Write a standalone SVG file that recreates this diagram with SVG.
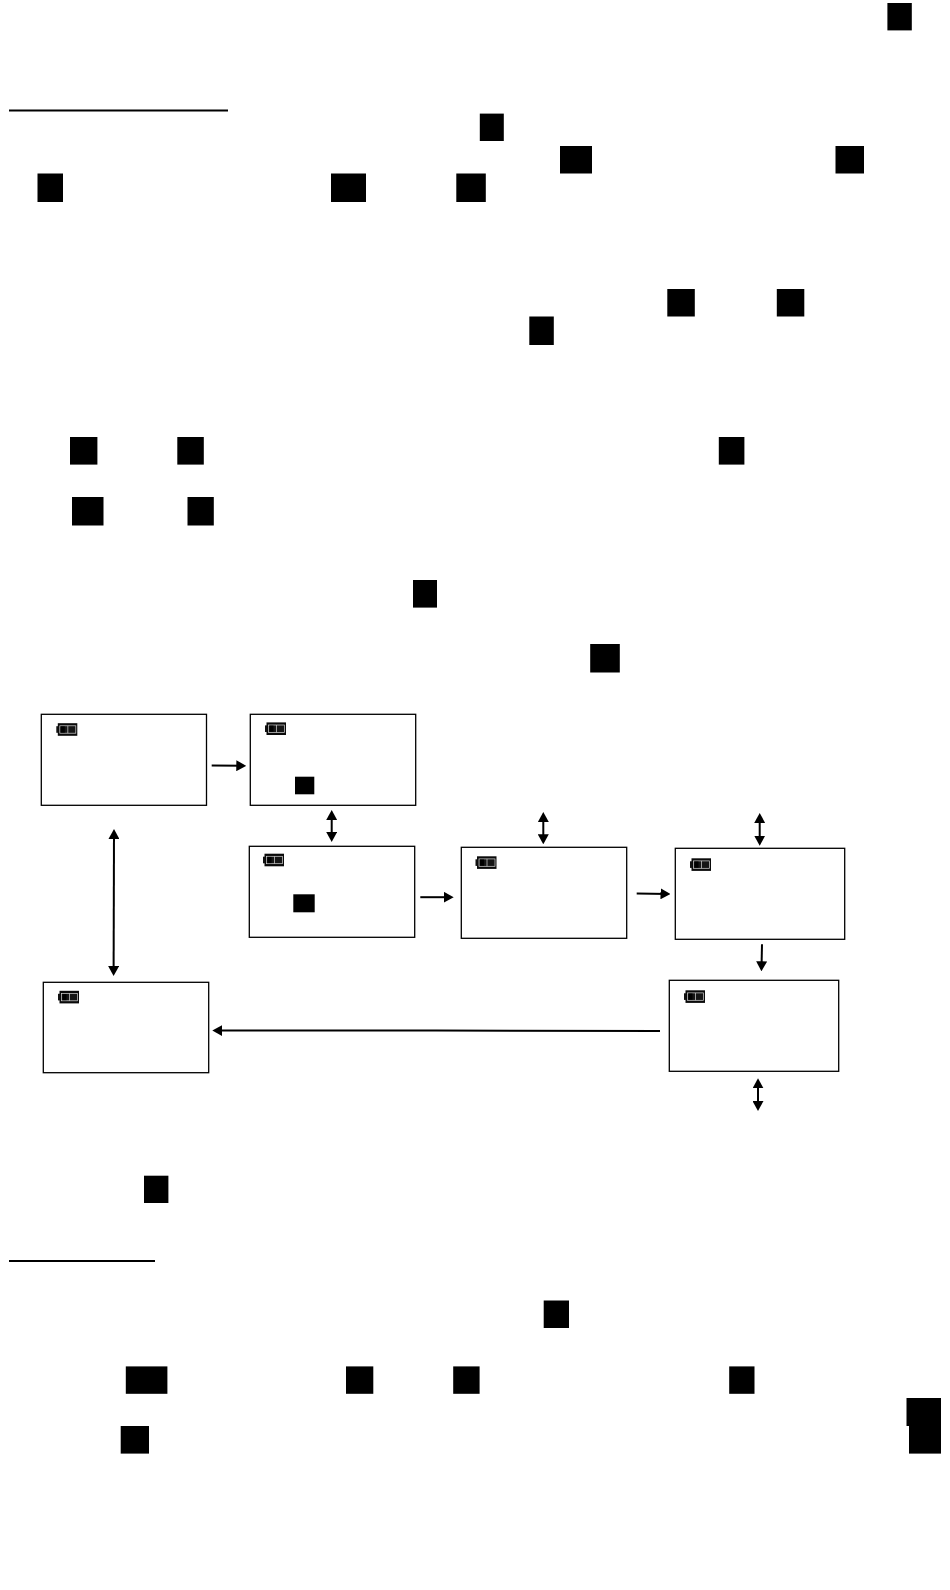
<svg xmlns="http://www.w3.org/2000/svg" width="950" height="1590" viewBox="0 0 950 1590">
<style>
.screen{fill:#fff;stroke:#000;stroke-width:1.3}
.blk{fill:#000}
.rule{stroke:#000;stroke-width:2;fill:none}
.conn{stroke:#000;stroke-width:2;fill:none}
.one{marker-end:url(#head)}
.two{marker-start:url(#head);marker-end:url(#head)}
</style>
<defs>
<marker id="head" markerUnits="userSpaceOnUse" markerWidth="10" markerHeight="11" refX="7" refY="5.5" orient="auto-start-reverse" viewBox="0 0 10 11"><path d="M0 0L10 5.5L0 11Z" fill="#000"/></marker>
<g id="battery">
<rect x="1.5" y="0" width="19.5" height="12.6" fill="#0a0a0a"/>
<rect x="0" y="3" width="2" height="6.6" fill="#111"/>
<rect x="3.5" y="2.6" width="16" height="7.4" fill="#151515" stroke="#d8d8d8" stroke-width=".7"/>
<path d="M11.5 2.6V10" stroke="#d8d8d8" stroke-width=".7"/>
<rect x="4.5" y="3.2" width="4" height="6.2" fill="#000"/>
</g>
</defs>
<rect width="950" height="1590" fill="#fff"/>
<g id="page-marks">
<path class="rule" d="M9 110.6H228"/>
<path class="rule" d="M9 1261H155"/>
<rect class="blk" x="887.4" y="3" width="24.4" height="27.4"/>
<rect class="blk" x="479.8" y="113.6" width="24" height="27.4"/>
<rect class="blk" x="560" y="146" width="32" height="27.5"/>
<rect class="blk" x="835.5" y="146" width="28.5" height="27.5"/>
<rect class="blk" x="37.5" y="173.5" width="25.5" height="28.5"/>
<rect class="blk" x="331" y="173.5" width="35" height="28.5"/>
<rect class="blk" x="456.3" y="173.5" width="29.5" height="28.5"/>
<rect class="blk" x="667.3" y="289" width="27.5" height="27.5"/>
<rect class="blk" x="776.8" y="289" width="27.5" height="27.5"/>
<rect class="blk" x="529.3" y="316.5" width="24.5" height="28.5"/>
<rect class="blk" x="70" y="437" width="27.4" height="27.6"/>
<rect class="blk" x="177.3" y="437" width="26.5" height="27.6"/>
<rect class="blk" x="718.8" y="437" width="25.6" height="27.6"/>
<rect class="blk" x="72" y="497" width="31.5" height="28.5"/>
<rect class="blk" x="187.5" y="497" width="26.3" height="28.5"/>
<rect class="blk" x="413" y="580" width="24" height="27.6"/>
<rect class="blk" x="590.2" y="644" width="29.6" height="28.5"/>
<rect class="blk" x="144" y="1175.7" width="24.4" height="27.3"/>
<rect class="blk" x="543.7" y="1300.5" width="25.3" height="27.5"/>
<rect class="blk" x="125.8" y="1366.4" width="41.6" height="27.4"/>
<rect class="blk" x="346" y="1366.4" width="27.3" height="27.4"/>
<rect class="blk" x="453.2" y="1366.4" width="26.4" height="27.4"/>
<rect class="blk" x="729.2" y="1366.4" width="25.3" height="27.4"/>
<rect class="blk" x="120.7" y="1426" width="28.3" height="27.6"/>
<rect class="blk" x="906.5" y="1398" width="34.5" height="28"/>
<rect class="blk" x="909" y="1426" width="32" height="27.6"/>
</g>
<g id="connectors">
<path class="conn one" d="M211.7 765.4L243.3 765.8"/>
<path class="conn two" d="M331.7 813V839"/>
<path class="conn two" d="M114 832L113.6 973"/>
<path class="conn one" d="M420.3 897.2H450.7"/>
<path class="conn two" d="M543.3 815V841.3"/>
<path class="conn one" d="M636.7 893.5L667.5 893.9"/>
<path class="conn two" d="M759.7 816V842.7"/>
<path class="conn one" d="M762 944.3L761.5 968.3"/>
<path class="conn two" d="M758 1081.3V1108"/>
<path class="conn one" d="M660 1031L436 1030.6H215.3"/>
</g>
<g id="screen-1"><rect class="screen" x="41.3" y="714.3" width="165.2" height="91"/><use href="#battery" x="56.3" y="723.2"/></g>
<g id="screen-2"><rect class="screen" x="250.3" y="714.3" width="165.4" height="91"/><use href="#battery" x="265" y="722.4"/><rect class="blk" x="295" y="776.7" width="19.3" height="17.6"/></g>
<g id="screen-3"><rect class="screen" x="249.3" y="846.3" width="165.4" height="91"/><use href="#battery" x="263" y="853.7"/><rect class="blk" x="293.3" y="894.3" width="21.4" height="18"/></g>
<g id="screen-4"><rect class="screen" x="461.3" y="847.3" width="165.4" height="91"/><use href="#battery" x="475.5" y="856.3"/></g>
<g id="screen-5"><rect class="screen" x="675.3" y="848.3" width="169.4" height="91"/><use href="#battery" x="690" y="858.3"/></g>
<g id="screen-6"><rect class="screen" x="669.3" y="980.3" width="169.4" height="91"/><use href="#battery" x="684" y="990.3"/></g>
<g id="screen-7"><rect class="screen" x="43.3" y="982.3" width="165.4" height="90.4"/><use href="#battery" x="58" y="990.8"/></g>
</svg>
